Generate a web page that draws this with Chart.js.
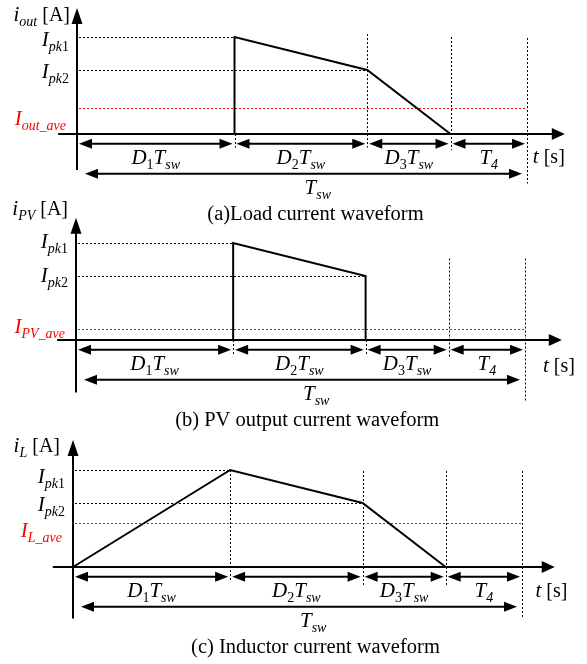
<!DOCTYPE html>
<html>
<head>
<meta charset="utf-8">
<script src="https://cdn.jsdelivr.net/npm/chart.js@4"></script>
<style>
  html, body { margin: 0; padding: 0; background: #fff; }
  body { position: relative; width: 587px; height: 664px; overflow: hidden; }
  .panel { position: absolute; left: 0; width: 587px; height: 238px; }
</style>
</head>
<body>
<div class="panel" style="top:-8px"><canvas id="loadChart" width="587" height="238"></canvas></div>
<div class="panel" style="top:198px"><canvas id="pvChart" width="587" height="238"></canvas></div>
<div class="panel" style="top:425px"><canvas id="indChart" width="587" height="238"></canvas></div>
<script>
// time in units of Tsw, current in units of Ipk1
const phaseEdges = [0, 0.35, 0.645, 0.83, 1.0];
const peakLevels = [1.0, 0.66];            // Ipk1, Ipk2
const aveLevels = [0.27, 0.11, 0.45];      // Iout_ave, IPV_ave, IL_ave

const loadT = [0, 0.35, 0.35, 0.645, 0.83];
const loadI = [0, 0, 1.0, 0.66, 0];
const pvT = [0, 0.35, 0.35, 0.645, 0.645];
const pvI = [0, 0, 1.0, 0.66, 0];
const indT = [0, 0.35, 0.645, 0.83];
const indI = [0, 1.0, 0.66, 0];

const captions = ['(a)Load current waveform', '(b) PV output current waveform', '(c) Inductor current waveform'];
const currentNames = ['out', 'PV', 'L'];

// rich text pieces: M italic main, R upright main, s italic sub, n upright sub
const FONT = '"Liberation Serif", "DejaVu Serif", serif';
const styles = {
  M: { font: 'italic 21px ' + FONT, dy: 0 },
  R: { font: '20px ' + FONT, dy: 0 },
  C: { font: '20.5px ' + FONT, dy: 0 },
  s: { font: 'italic 14px ' + FONT, dy: 5 },
  n: { font: '14px ' + FONT, dy: 5 }
};
const phaseLabels = [
  [['D', 'M'], ['1', 'n'], ['T', 'M'], ['sw', 's']],
  [['D', 'M'], ['2', 'n'], ['T', 'M'], ['sw', 's']],
  [['D', 'M'], ['3', 'n'], ['T', 'M'], ['sw', 's']],
  [['T', 'M'], ['4', 's']]
];

function drawRich(ctx, parts, x, y, align, color) {
  let w = 0;
  parts.forEach(p => { ctx.font = styles[p[1]].font; w += ctx.measureText(p[0]).width; });
  let cx = align === 'right' ? x - w : align === 'center' ? x - w / 2 : x;
  ctx.fillStyle = color || '#000';
  ctx.textBaseline = 'alphabetic';
  ctx.textAlign = 'left';
  parts.forEach(p => {
    const st = styles[p[1]];
    ctx.font = st.font;
    ctx.fillText(p[0], cx, y + st.dy);
    cx += ctx.measureText(p[0]).width;
  });
}

function head(ctx, x, y, dir, len, hw) {
  ctx.beginPath();
  if (dir === 'r') { ctx.moveTo(x, y); ctx.lineTo(x - len, y - hw); ctx.lineTo(x - len, y + hw); }
  if (dir === 'l') { ctx.moveTo(x, y); ctx.lineTo(x + len, y - hw); ctx.lineTo(x + len, y + hw); }
  if (dir === 'u') { ctx.moveTo(x, y); ctx.lineTo(x - hw, y + len); ctx.lineTo(x + hw, y + len); }
  ctx.closePath();
  ctx.fill();
}

function line(ctx, x1, y1, x2, y2, color, width, dash) {
  ctx.save();
  ctx.strokeStyle = color; ctx.lineWidth = width;
  ctx.setLineDash(dash || []);
  ctx.beginPath(); ctx.moveTo(x1, y1); ctx.lineTo(x2, y2); ctx.stroke();
  ctx.restore();
}

function dotted(ctx, x1, y1, x2, y2, color) {
  // snap to pixel centres so the 1px dots stay crisp
  const sx = v => Math.round(v) + 0.5;
  if (x1 === x2) { x1 = x2 = sx(x1); } else { y1 = y2 = sx(y1); }
  line(ctx, x1, y1, x2, y2, color, 1, [2, 2]);
}

const diagramPlugin = {
  id: 'diagram',
  beforeDatasetsDraw(chart) {
    const o = chart.options.plugins.diagram;
    const ctx = chart.ctx, X = chart.scales.x, Y = chart.scales.y;
    const x0 = X.getPixelForValue(0) + 2;
    ctx.save();
    // level lines
    dotted(ctx, x0, Y.getPixelForValue(peakLevels[0]), X.getPixelForValue(phaseEdges[1]), Y.getPixelForValue(peakLevels[0]), '#000');
    dotted(ctx, x0, Y.getPixelForValue(peakLevels[1]), X.getPixelForValue(phaseEdges[2]), Y.getPixelForValue(peakLevels[1]), '#000');
    dotted(ctx, x0, Y.getPixelForValue(o.ave), X.getPixelForValue(phaseEdges[4]), Y.getPixelForValue(o.ave), '#f00');
    // vertical markers
    o.marks.forEach((m, i) => {
      const px = X.getPixelForValue(phaseEdges[i + 1]);
      dotted(ctx, px, Y.getPixelForValue(m[0]), px, Y.getPixelForValue(m[1]), '#000');
    });
    ctx.restore();
  },
  afterDatasetsDraw(chart) {
    const o = chart.options.plugins.diagram;
    const ctx = chart.ctx, X = chart.scales.x, Y = chart.scales.y;
    const x0 = X.getPixelForValue(0), y0 = Y.getPixelForValue(0);
    ctx.save();
    ctx.fillStyle = '#000';
    // axes
    const xEnd = X.getPixelForValue(o.xAxis[1]);
    line(ctx, X.getPixelForValue(o.xAxis[0]), y0, xEnd - 8, y0, '#000', 2);
    head(ctx, xEnd, y0, 'r', 13, 6);
    const yTop = Y.getPixelForValue(o.yAxis[1]);
    line(ctx, x0, Y.getPixelForValue(o.yAxis[0]), x0, yTop + 8, '#000', 2);
    head(ctx, x0, yTop, 'u', 16, 5.5);
    // phase arrows
    const ya = Y.getPixelForValue(-0.1);
    for (let i = 0; i < 4; i++) {
      const a = X.getPixelForValue(phaseEdges[i]) + 2;
      const b = X.getPixelForValue(phaseEdges[i + 1]) - 2;
      line(ctx, a + 6, ya, b - 6, ya, '#000', 2);
      head(ctx, a, ya, 'l', 13, 5); head(ctx, b, ya, 'r', 13, 5);
      drawRich(ctx, phaseLabels[i], (a + b) / 2, Y.getPixelForValue(o.labelY), 'center');
    }
    // Tsw arrow
    const yt = Y.getPixelForValue(-0.41);
    const ta = x0 + 8, tb = X.getPixelForValue(phaseEdges[4]) - 5;
    line(ctx, ta + 6, yt, tb - 6, yt, '#000', 2);
    head(ctx, ta, yt, 'l', 13, 5); head(ctx, tb, yt, 'r', 13, 5);
    drawRich(ctx, [['T', 'M'], ['sw', 's']], X.getPixelForValue(0.535), Y.getPixelForValue(-0.62), 'center');
    // t [s]
    drawRich(ctx, [['t', 'M'], [' [s]', 'R']], X.getPixelForValue(o.tLabel[0]), Y.getPixelForValue(o.tLabel[1]), 'left');
    // axis title
    drawRich(ctx, [['i', 'M'], [o.name, 's'], [' [A]', 'R']], o.yTitle[0], Y.getPixelForValue(o.yTitle[1]), 'right');
    // level labels
    const lx = x0 - 8;
    drawRich(ctx, [['I', 'M'], ['pk', 's'], ['1', 'n']], lx, Y.getPixelForValue(o.levelY[0]), 'right');
    drawRich(ctx, [['I', 'M'], ['pk', 's'], ['2', 'n']], lx, Y.getPixelForValue(o.levelY[1]), 'right');
    drawRich(ctx, [['I', 'M'], [o.name + '_ave', 's']], lx - 3, Y.getPixelForValue(o.levelY[2]), 'right', '#f00');
    // caption
    drawRich(ctx, [[o.caption, 'C']], X.getPixelForValue(o.capX), Y.getPixelForValue(-0.89), 'center');
    ctx.restore();
  }
};

function makeChart(id, ts, is, idx, pad, extra) {
  const pts = ts.map((t, k) => ({ x: t, y: is[k] }));
  return new Chart(document.getElementById(id), {
    type: 'line',
    data: {
      datasets: [{
        data: pts,
        borderColor: '#000',
        borderWidth: 2,
        pointRadius: 0,
        tension: 0,
        clip: false
      }]
    },
    options: {
      responsive: false,
      animation: false,
      devicePixelRatio: 1,
      layout: { padding: { left: pad[0], right: pad[1], top: 45, bottom: 96 } },
      scales: {
        x: { type: 'linear', min: 0, max: 1, display: false },
        y: { min: 0, max: 1, display: false }
      },
      plugins: {
        legend: { display: false },
        tooltip: { enabled: false },
        diagram: Object.assign({
          ave: aveLevels[idx],
          name: currentNames[idx],
          caption: captions[idx],
          labelY: -0.31
        }, extra)
      }
    },
    plugins: [diagramPlugin]
  });
}

makeChart('loadChart', loadT, loadI, 0, [77, 60], {
  marks: [[0, -0.14], [1.03, -0.14], [1.0, -0.165], [0.99, -0.51]],
  xAxis: [-0.042, 1.084], yAxis: [-0.37, 1.30],
  tLabel: [1.013, -0.30], yTitle: [70, 1.16],
  levelY: [0.907, 0.577, 0.093], capX: 0.53
});
makeChart('pvChart', pvT, pvI, 1, [76, 62], {
  marks: [[0, -0.15], [0, -0.15], [0.84, -0.175], [0.84, -0.64]],
  xAxis: [-0.042, 1.082], yAxis: [-0.54, 1.26],
  tLabel: [1.04, -0.33], yTitle: [68, 1.29],
  levelY: [0.948, 0.598, 0.072], capX: 0.515
});
makeChart('indChart', indT, indI, 2, [73, 65], {
  marks: [[1.0, -0.134], [0.99, -0.19], [0.99, -0.19], [0.99, -0.52]],
  xAxis: [-0.045, 1.073], yAxis: [-0.53, 1.31],
  tLabel: [1.03, -0.31], yTitle: [60, 1.19],
  levelY: [0.866, 0.577, 0.309], capX: 0.54
});
</script>
</body>
</html>
